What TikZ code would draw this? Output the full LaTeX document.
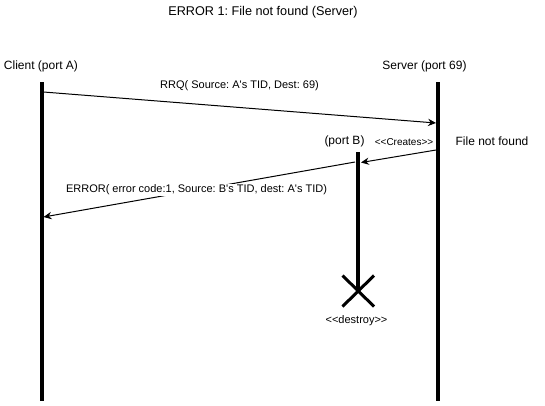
\documentclass[tikz,border=0pt]{standalone}
\usepackage{fontspec}
\setmainfont{Liberation Sans}[Ligatures=TeXOff]
\usetikzlibrary{arrows.meta}
\frenchspacing
\newcommand{\lsym}{<\kern0pt}
\newcommand{\gsym}{>\kern0pt}
\begin{document}
\begin{tikzpicture}[x=0.75pt,y=-0.75pt,
  lifeline/.style={line width=3pt},
  msg/.style={line width=0.75pt,-{Stealth[length=6pt,width=5.5pt,inset=2pt]}},
  lbl/.style={font=\fontsize{9}{10}\selectfont, inner sep=0pt},
  ttl/.style={font=\fontsize{9.5}{11}\selectfont, inner sep=0pt},
  elbl/.style={font=\fontsize{8.25}{9}\selectfont, inner sep=0.5pt, fill=white},
  mlbl/.style={font=\fontsize{8.25}{9}\selectfont, inner sep=0pt},
  slbl/.style={font=\fontsize{7.5}{8}\selectfont, inner sep=0pt},
  destroyx/.style={line width=2.25pt}]
\useasboundingbox (0,0) rectangle (545,405);
% title and headers
\node[ttl] (title) at (263,12.5) {ERROR 1: File not found (Server)};
\node[lbl] (client) at (41,66) {Client (port A)};
\node[lbl] (server) at (424.5,66) {Server (port 69)};
\node[lbl] (portb) at (344.5,141) {(port B)};
\node[lbl] (fnf) at (492,141) {File not found};
% lifelines
\coordinate (cTop) at (41.5,82);
\coordinate (cBot) at (41.5,401);
\coordinate (sTop) at (438,82);
\coordinate (sBot) at (438,401);
\coordinate (bTop) at (358.3,152);
\coordinate (bEnd) at (358.3,291);
\draw[lifeline] (cTop) -- (cBot);
\draw[lifeline] (sTop) -- (sBot);
\draw[lifeline] (bTop) -- (bEnd);
% destroy mark
\coordinate (x1) at (342.5,275.5);
\coordinate (x2) at (374,306.5);
\coordinate (x3) at (374,275.5);
\coordinate (x4) at (342.5,306.5);
\draw[destroyx] (x1) -- (x2);
\draw[destroyx] (x3) -- (x4);
\node[mlbl] (destroy) at (356.5,321) {\lsym\lsym destroy\gsym\gsym};
% messages
\coordinate (rrqS) at (43.5,92);
\coordinate (rrqE) at (436,123);
\draw[msg] (rrqS) -- (rrqE);
\node[mlbl] (rrq) at (239.5,86) {RRQ( Source: A's TID, Dest: 69)};
\coordinate (crS) at (436,150);
\coordinate (crE) at (361,162.5);
\draw[msg] (crS) -- (crE);
\node[slbl] (creates) at (404,142) {\lsym\lsym Creates\gsym\gsym};
\coordinate (erS) at (355,162);
\coordinate (erE) at (43.5,217);
\draw[msg] (erS) -- (erE);
\node[elbl] (err) at (196.5,190) {ERROR( error code:1, Source: B's TID, dest: A's TID)};
\end{tikzpicture}
\end{document}
